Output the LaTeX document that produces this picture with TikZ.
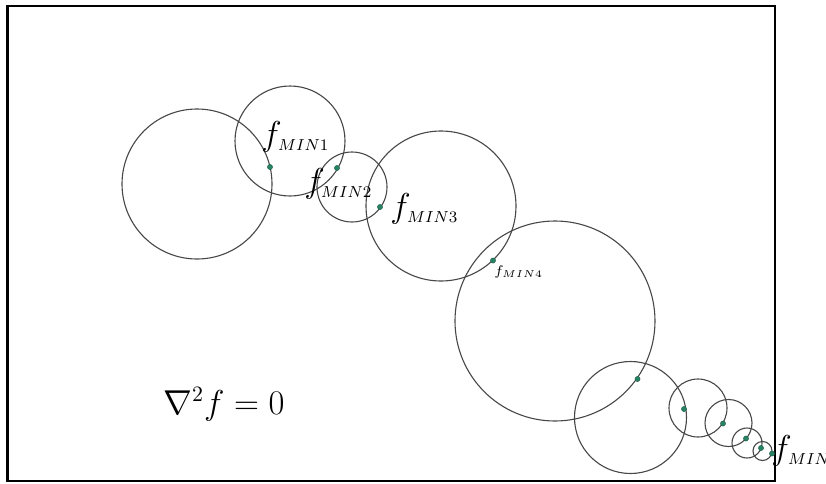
\documentclass[tikz,border=0pt]{standalone}
\usepackage{xcolor}
\usepackage{tikz}
\usetikzlibrary{positioning, calc}

\definecolor{mingreen}{RGB}{40,130,100}

\begin{document}
\begin{tikzpicture}[
        x=0.5pt, y=-0.5pt,
        % 1. STYLES
        frame/.style={draw=black, line width=1.3pt},
        ring/.style={draw=black!72, line width=0.55pt},
        % minimum points on the circles
        dot/.style={circle, fill=mingreen, draw=mingreen!70!black, line width=0.2pt,
            inner sep=0pt, minimum size=2.6pt},
        % labels f_MIN
        minlbl/.style={anchor=base west, inner sep=0pt, font=\fontsize{16}{18}\selectfont},
        minsmall/.style={anchor=base west, inner sep=0pt, font=\fontsize{7.5}{9}\selectfont}
    ]

        \useasboundingbox (0,0) rectangle (826,483);

        % 2. FRAME
        \draw[frame] (7.5,6) rectangle (775,481);

        % 3. CIRCLES
        \draw[ring] (197,184) circle (75);
        \draw[ring] (290,141) circle (55);
        \draw[ring] (352,187) circle (35);
        \draw[ring] (441,206) circle (75);
        \draw[ring] (555,321) circle (100);
        \draw[ring] (630.5,417.5) circle (56);
        \draw[ring] (698,408) circle (29);
        \draw[ring] (728.5,423) circle (23.5);
        \draw[ring] (747,443) circle (15);
        \draw[ring] (762.5,451) circle (9.5);

        % 4. MINIMUM POINTS
        \node[dot] (d1) at (270,167) {};
        \node[dot] (d2) at (337,168) {};
        \node[dot] (d3) at (380,207) {};
        \node[dot] (d4) at (493,260.5) {};
        \node[dot] (d5) at (637.5,379) {};
        \node[dot] (d6) at (684,409) {};
        \node[dot] (d7) at (723,423.5) {};
        \node[dot] (d8) at (746,438.5) {};
        \node[dot] (d9) at (761,448) {};
        \node[dot] (dn) at (772,453.5) {};

        % 5. LABELS
        \node[minlbl] (l1) at (261,145) {$f_{\scriptscriptstyle MIN1}$};
        \node[minlbl] (l2) at (304,192) {$f_{\scriptscriptstyle MIN2}$};
        \node[minlbl] (l3) at (390,217) {$f_{\scriptscriptstyle MIN3}$};
        \node[minsmall] (l4) at (494,275.5) {$f_{\scriptscriptstyle MIN4}$};
        \node[minlbl] (ln) at (771,459) {$f_{\scriptscriptstyle MINn}$};

        \node[anchor=base west, inner sep=0pt, font=\fontsize{16}{18}\selectfont]
            (eq) at (163,414) {$\nabla^2 f = 0$};

    \end{tikzpicture}
\end{document}
